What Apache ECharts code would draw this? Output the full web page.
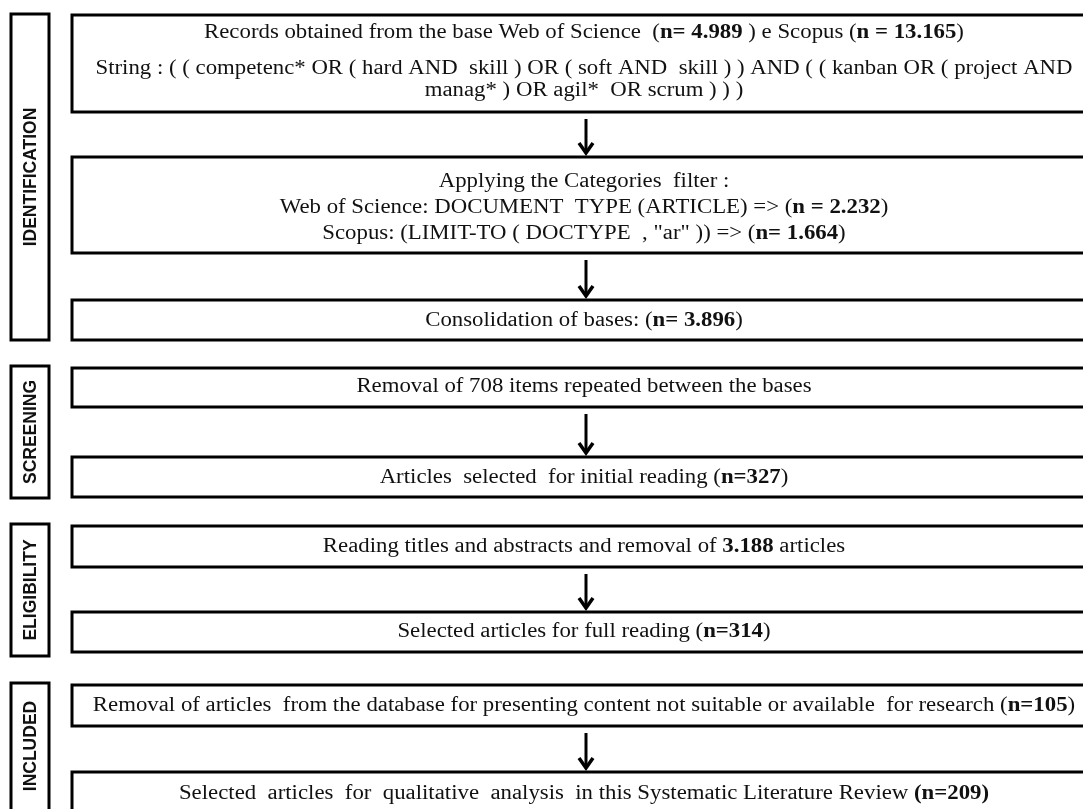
<!DOCTYPE html>
<html>
<head>
<meta charset="utf-8">
<script src="https://cdn.jsdelivr.net/npm/echarts@6/dist/echarts.min.js"></script>
<style>html,body{margin:0;padding:0;background:#fff;}#c{width:1083px;height:809px;}</style>
</head>
<body>
<div id="c"></div>
<script>
// ---- data ----
const stageNames = ['IDENTIFICATION', 'SCREENING', 'ELIGIBILITY', 'INCLUDED'];
const boxTexts = [
  ['Records obtained from the base Web of Science  (**n= 4.989** ) e Scopus (**n = 13.165**)',
   'String : ( ( competenc* OR ( hard AND  skill ) OR ( soft AND  skill ) ) AND ( ( kanban OR ( project AND',
   'manag* ) OR agil*  OR scrum ) ) )'],
  ['Applying the Categories  filter :',
   'Web of Science: DOCUMENT  TYPE (ARTICLE) => (**n = 2.232**)',
   'Scopus: (LIMIT-TO ( DOCTYPE  , "ar" )) => (**n= 1.664**)'],
  ['Consolidation of bases: (**n= 3.896**)'],
  ['Removal of 708 items repeated between the bases'],
  ['Articles  selected  for initial reading (**n=327**)'],
  ['Reading titles and abstracts and removal of **3.188** articles'],
  ['Selected articles for full reading (**n=314**)'],
  ['Removal of articles  from the database for presenting content not suitable or available  for research (**n=105**)'],
  ['Selected  articles  for  qualitative  analysis  in this Systematic Literature Review **(n=209)**']
];
const boxStage = [0, 0, 0, 1, 1, 2, 2, 3, 3];
const arrowLinks = [[0, 1], [1, 2], [3, 4], [5, 6], [7, 8]];

// ---- layout (pixels) ----
const layout = {
  boxLeft: 72, boxRight: 1098,
  boxTop:    [15, 157, 300, 368, 457, 526, 612, 685, 772],
  boxBottom: [112, 253, 340, 407, 497, 567, 652, 726, 840],
  lineY: [[33, 69, 91], [182, 208, 234], [321], [387], [478], [547], [632], [706], [794]],
  sideLeft: 11, sideRight: 49,
  sideTop:    [14, 366, 524, 683],
  sideBottom: [340, 498, 656, 840],
  arrowX: 586,
  textX: 584,
  textStretch: 1.14
};
const serif = '"Liberation Serif", "Times New Roman", serif';
const sans = '"Liberation Sans", Arial, sans-serif';
const fontSize = 20;

function toRich(s) { return s.replace(/\*\*(.+?)\*\*/g, '{b|$1}'); }

const chart = echarts.init(document.getElementById('c'), null, { renderer: 'canvas' });

function boxRender(params, api) {
  const i = api.value(0);
  const p0 = api.coord([layout.boxLeft, layout.boxTop[i]]);
  const p1 = api.coord([layout.boxRight, layout.boxBottom[i]]);
  const children = [{
    type: 'rect',
    shape: { x: p0[0], y: p0[1], width: p1[0] - p0[0], height: p1[1] - p0[1] },
    style: { fill: '#fff', stroke: '#000', lineWidth: 3 }
  }];
  boxTexts[i].forEach((line, k) => {
    const c = api.coord([layout.textX, layout.lineY[i][k]]);
    children.push({
      type: 'text', x: c[0], y: c[1], scaleX: layout.textStretch, scaleY: 1,
      style: {
        text: toRich(line), x: 0, y: 0, align: 'center', verticalAlign: 'middle',
        fontFamily: serif, fontSize: fontSize, fill: '#111',
        rich: { b: { fontFamily: serif, fontSize: fontSize, fontWeight: 'bold', fill: '#111' } }
      }
    });
  });
  return { type: 'group', children };
}

function sideRender(params, api) {
  const i = api.value(0);
  const p0 = api.coord([layout.sideLeft, layout.sideTop[i]]);
  const p1 = api.coord([layout.sideRight, layout.sideBottom[i]]);
  const bottomVisible = Math.min(p1[1], 809);
  const cy = (p0[1] + bottomVisible) / 2;
  return {
    type: 'group',
    children: [{
      type: 'rect',
      shape: { x: p0[0], y: p0[1], width: p1[0] - p0[0], height: p1[1] - p0[1] },
      style: { fill: '#fff', stroke: '#000', lineWidth: 3 }
    }, {
      type: 'text', x: (p0[0] + p1[0]) / 2 + 1, y: cy, rotation: Math.PI / 2,
      style: {
        text: stageNames[i], x: 0, y: 0, align: 'center', verticalAlign: 'middle',
        fontFamily: sans, fontSize: 17.5, fontWeight: 'bold', fill: '#111'
      }
    }]
  };
}

function arrowRender(params, api) {
  const a = api.value(0), b = api.value(1);
  const top = api.coord([layout.arrowX, layout.boxBottom[a] + 7]);
  const tip = api.coord([layout.arrowX, layout.boxTop[b] - 4]);
  return {
    type: 'group',
    children: [{
      type: 'line',
      shape: { x1: top[0], y1: top[1], x2: tip[0], y2: tip[1] - 1 },
      style: { stroke: '#000', lineWidth: 3 }
    }, {
      type: 'polyline',
      shape: { points: [[tip[0] - 7, tip[1] - 10], [tip[0], tip[1]], [tip[0] + 7, tip[1] - 10]] },
      style: { stroke: '#000', lineWidth: 3.5, fill: 'none', lineJoin: 'miter' }
    }]
  };
}

chart.setOption({
  animation: false,
  backgroundColor: '#fff',
  grid: { left: 0, right: 0, top: 0, bottom: 0 },
  xAxis: { type: 'value', min: 0, max: 1083, show: false },
  yAxis: { type: 'value', min: 0, max: 809, inverse: true, show: false },
  series: [
    { type: 'custom', coordinateSystem: 'cartesian2d', renderItem: sideRender,
      data: stageNames.map((n, i) => [i]), clip: true, silent: true },
    { type: 'custom', coordinateSystem: 'cartesian2d', renderItem: boxRender,
      data: boxTexts.map((t, i) => [i]), clip: true, silent: true },
    { type: 'custom', coordinateSystem: 'cartesian2d', renderItem: arrowRender,
      data: arrowLinks, clip: true, silent: true }
  ]
});
</script>
</body>
</html>
